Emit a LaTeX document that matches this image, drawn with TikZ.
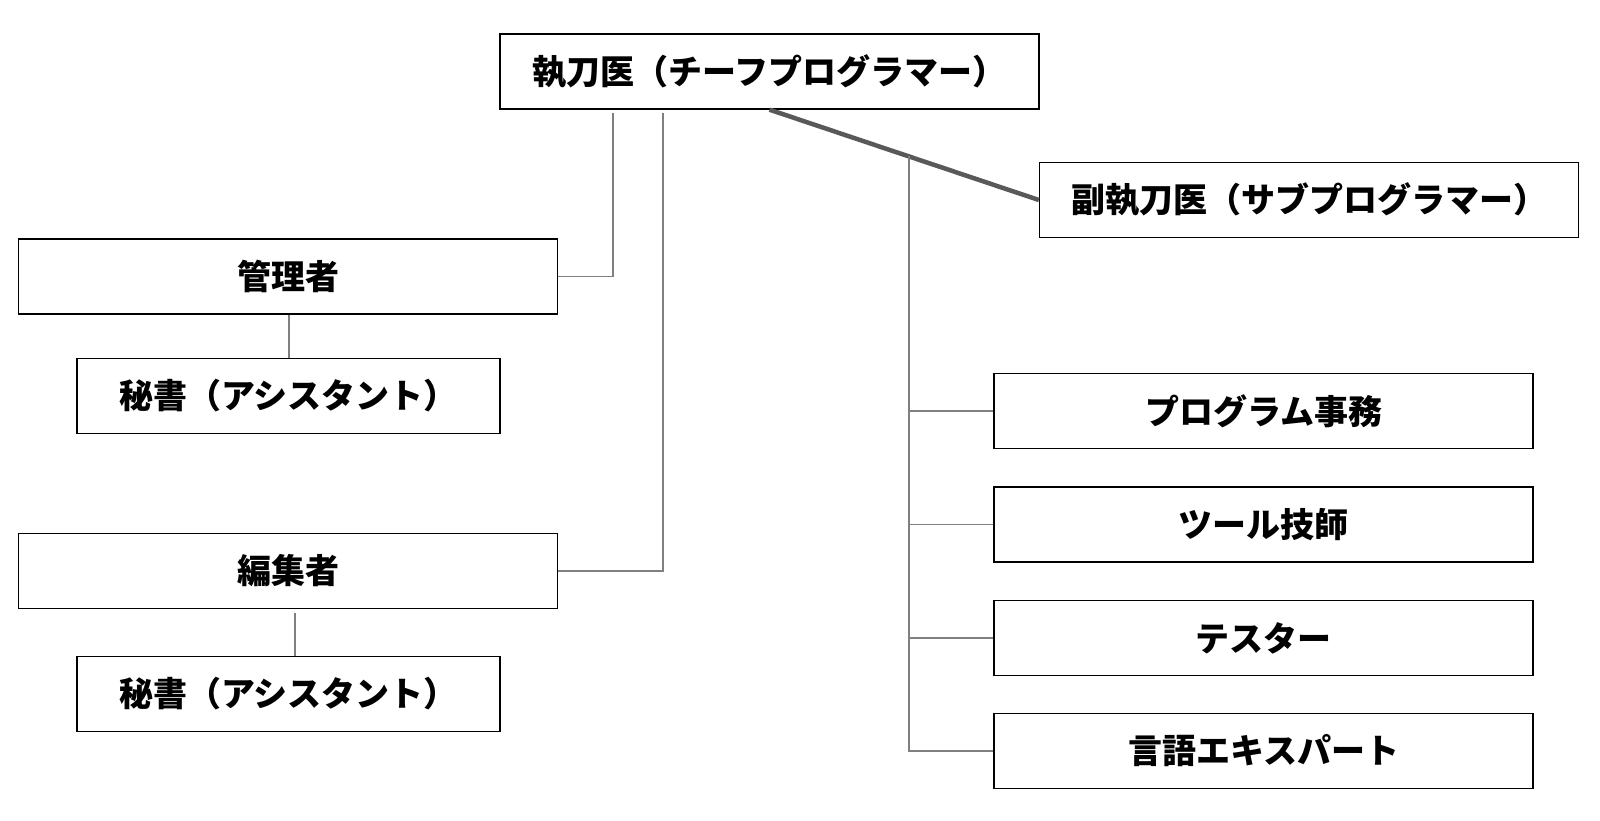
\documentclass[tikz,border=0pt]{standalone}
\usepackage{fontspec}
\setmainfont{Noto Sans CJK JP}
\usetikzlibrary{calc}
\begin{document}
\begin{tikzpicture}[x=1pt,y=-1pt,
  box/.style={draw=black,line width=1.3pt,fill=white,inner sep=0pt,
    font=\fontsize{34}{40}\selectfont\bfseries,align=center},
  wide/.style={box,minimum width=539pt,minimum height=75pt},
  narrow/.style={box,minimum width=423pt,minimum height=75pt},
  conn/.style={draw=black!50,line width=1.4pt},
  main/.style={draw=black!65,line width=4.5pt}]
\useasboundingbox (0,0) rectangle (1600,820);
\node[wide] (top) at (769.5,71.5) {執刀医（チーフプログラマー）};
\node[wide] (sub) at (1309,200) {副執刀医（サブプログラマー）};
\node[wide] (mgr) at (288,276.5) {管理者};
\node[narrow] (sec1) at (288.5,396) {秘書（アシスタント）};
\node[wide] (edt) at (288,571) {編集者};
\node[narrow] (sec2) at (288.5,694) {秘書（アシスタント）};
\node[wide] (r1) at (1263.5,411) {プログラム事務};
\node[wide] (r2) at (1263.5,524.5) {ツール技師};
\node[wide] (r3) at (1263.5,638) {テスター};
\node[wide] (r4) at (1263.5,751) {言語エキスパート};
% connectors
\coordinate (a1) at (613,113);
\coordinate (a2) at (663,113);
\draw[conn] (a1) |- (mgr.east);
\draw[conn] (a2) |- (edt.east);
\draw[conn] (mgr.south -| 289,0) -- (sec1.north -| 289,0);
\coordinate (e1) at (295,613);
\draw[conn] (e1) -- (sec2.north -| e1);
\draw[main] (top.south) -- (sub.west);
\coordinate (bus) at ($(top.south)!0.5176!(sub.west)$);
\draw[conn] (bus) |- (r1.west);
\draw[conn] (bus) |- (r2.west);
\draw[conn] (bus) |- (r3.west);
\draw[conn] (bus) |- (r4.west);
\end{tikzpicture}
\end{document}
